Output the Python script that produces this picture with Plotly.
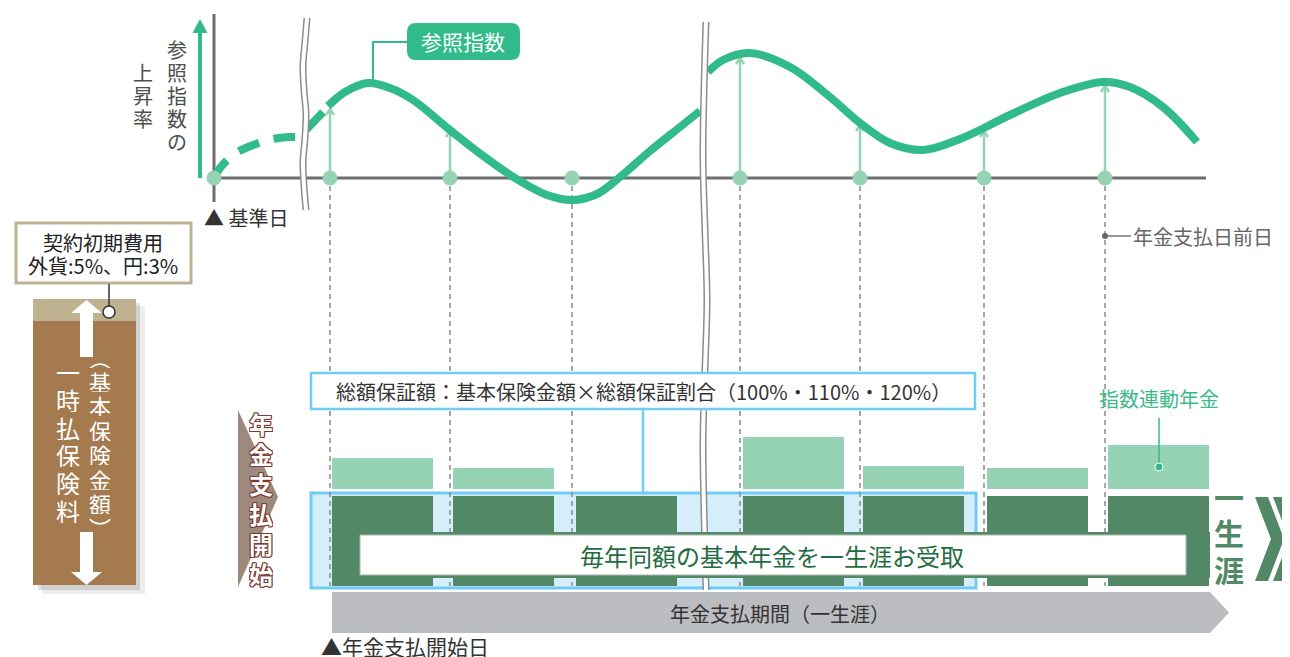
import plotly.graph_objects as go

FONT = "Noto Sans CJK JP"
GREEN = "#31bb8a"
LIGHT = "#96d3b5"
DARK = "#528866"
AXIS = "#6d6e71"
BLUE = "#6fcdf4"
BLUE_FILL = "#d6edfa"
TEXT = "#333333"

# canvas-space schematic: x = time line, y = level (smaller = higher)
AXIS_Y = 178
BASE_X = 214

# 参照指数 curve, in pieces (dashed start, skipped period, two solid stretches)
pre_x = [214, 220, 233, 248, 273, 292, 300]
pre_y = [178, 168, 155, 147, 139, 137, 137]
skip_x = [306, 314, 323]
skip_y = [130, 121, 112]
idx_a_x = [328, 345, 368, 390, 413, 450, 482, 515, 547, 572, 597, 620, 650, 680, 700]
idx_a_y = [106, 92, 83, 88, 100, 130, 155, 178, 195, 200, 194, 177, 151, 127, 111]
idx_b_x = [708, 723, 750, 790, 830, 860, 890, 923, 960, 1010, 1060, 1103, 1130, 1163, 1197]
idx_b_y = [72, 60, 53, 67, 97, 123, 143, 150, 139, 115, 93, 82, 87, 107, 142]

# 年金支払日前日 (observation dates) and where the rise arrow ends
obs_x = [330, 450, 572, 740, 860, 984, 1105]
obs_tip = [109, 131, None, 58, 125, 131, 86]

# yearly pension bars
bar_left = [332, 453, 576, 743, 863, 987, 1108]
BAR_W = 101
basic_pension = [90, 90, 90, 90, 90, 90, 90]      # 基本年金 (毎年同額)
index_pension = [31, 21, 0, 52, 23, 21, 44]       # 指数連動年金
BASIC_BASE = 586
INDEX_BASE = 489

# break marks (wavy double lines)
brk1_x = [307, 305, 303, 304, 306, 305, 303, 304, 306]
brk1_y = [18, 42, 66, 90, 114, 138, 162, 186, 210]
brk2_x = [706, 704, 703, 705, 707, 705, 703, 704, 706]
brk2_y = [22, 90, 160, 230, 300, 370, 440, 510, 590]

fig = go.Figure()

# dashed guide lines from each observation date down to the bars
gx, gy = [], []
for x in obs_x:
    gx += [x, x, None]
    gy += [AXIS_Y + 8, BASIC_BASE, None]
fig.add_trace(go.Scatter(x=gx, y=gy, mode="lines",
                         line=dict(color="#8a8a8a", width=1.5, dash="5px,4px")))

# bars
centers = [l + BAR_W / 2 for l in bar_left]
fig.add_trace(go.Bar(x=centers, y=[-v for v in basic_pension], base=BASIC_BASE,
                     width=BAR_W, marker=dict(color=DARK, line=dict(width=0))))
fig.add_trace(go.Bar(x=centers, y=[-v for v in index_pension], base=INDEX_BASE,
                     width=BAR_W, marker=dict(color=LIGHT, line=dict(width=0))))

# rise arrows (drawn under the curve)
ax_, ay_ = [], []
for x, t in zip(obs_x, obs_tip):
    if t is None:
        continue
    ax_ += [x, x, None, x - 4, x, x + 4, None]
    ay_ += [AXIS_Y, t, None, t + 6, t, t + 6, None]
fig.add_trace(go.Scatter(x=ax_, y=ay_, mode="lines", line=dict(color=LIGHT, width=2.5)))

# index curve
fig.add_trace(go.Scatter(x=pre_x, y=pre_y, mode="lines", line_shape="spline",
                         line=dict(color=GREEN, width=8, dash="22px,15px")))
fig.add_trace(go.Scatter(x=skip_x, y=skip_y, mode="lines", line=dict(color=GREEN, width=8)))
fig.add_trace(go.Scatter(x=idx_a_x, y=idx_a_y, mode="lines", line_shape="spline",
                         line=dict(color=GREEN, width=8)))
fig.add_trace(go.Scatter(x=idx_b_x, y=idx_b_y, mode="lines", line_shape="spline",
                         line=dict(color=GREEN, width=8)))

# break marks
for bx, by in [(brk1_x, brk1_y), (brk2_x, brk2_y)]:
    fig.add_trace(go.Scatter(x=bx, y=by, mode="lines", line_shape="spline",
                             line=dict(color="#8c8c8c", width=7)))
    fig.add_trace(go.Scatter(x=bx, y=by, mode="lines", line_shape="spline",
                             line=dict(color="white", width=4)))

# base date + observation points
fig.add_trace(go.Scatter(x=[BASE_X] + obs_x, y=[AXIS_Y] * (len(obs_x) + 1), mode="markers",
                         marker=dict(color=LIGHT, size=15, line=dict(width=0))))


def rrect(x0, y0, x1, y1, r):
    return (f"M{x0+r},{y0} L{x1-r},{y0} Q{x1},{y0} {x1},{y0+r} L{x1},{y1-r} "
            f"Q{x1},{y1} {x1-r},{y1} L{x0+r},{y1} Q{x0},{y1} {x0},{y1-r} "
            f"L{x0},{y0+r} Q{x0},{y0} {x0+r},{y0} Z")


below = "below"
above = "above"
shapes = [
    # left column: premium
    dict(type="rect", x0=42, y0=306, x1=145, y1=594, fillcolor="rgba(80,80,80,0.10)", line_width=0, layer=below),
    dict(type="rect", x0=38, y0=303, x1=140, y1=590, fillcolor="rgba(80,80,80,0.18)", line_width=0, layer=below),
    dict(type="rect", x0=33, y0=299, x1=136, y1=585, fillcolor="#a47a4e", line_width=0, layer=below),
    dict(type="rect", x0=33, y0=299, x1=136, y1=321, fillcolor="#beb290", line_width=0, layer=below),
    dict(type="path", path="M80,357 L80,313 L71,313 L86.5,300 L102,313 L93,313 L93,357 Z",
         fillcolor="white", line_width=0, layer=below),
    dict(type="path", path="M80,532 L80,572 L71,572 L86.5,585 L102,572 L93,572 L93,532 Z",
         fillcolor="white", line_width=0, layer=below),
    # 契約初期費用 box + pointer
    dict(type="rect", x0=16, y0=223, x1=191, y1=283, fillcolor="white",
         line=dict(color="#bdb392", width=3), layer=below),
    dict(type="line", x0=109, y0=284, x1=109, y1=306, line=dict(color="#333", width=1.5), layer=below),
    # 年金支払開始 marker
    dict(type="path", path="M238,410 L278,497 L238,587 Z", fillcolor="#9e8a7c", line_width=0, layer=below),
    # total guarantee box
    dict(type="rect", x0=311, y0=493, x1=976, y1=588, fillcolor=BLUE_FILL,
         line=dict(color=BLUE, width=3), layer=below),
    # payout period arrow
    dict(type="path", path="M332,592 L1210,592 L1229,612.5 L1210,633 L332,633 Z",
         fillcolor="#bcbdc0", line_width=0, layer=below),
    # axes
    dict(type="line", x0=BASE_X, y0=14, x1=BASE_X, y1=202, line=dict(color=AXIS, width=3), layer=below),
    dict(type="line", x0=BASE_X, y0=AXIS_Y, x1=1206, y1=AXIS_Y, line=dict(color=AXIS, width=3), layer=below),
    dict(type="line", x0=200, y0=178, x1=200, y1=30, line=dict(color=GREEN, width=4), layer=below),
    dict(type="path", path="M192.5,33 L200,19 L207.5,33 Z", fillcolor=GREEN, line_width=0, layer=below),
    # 参照指数 label
    dict(type="path", path="M373,82 L373,42 L407,42", line=dict(color=GREEN, width=2), layer=below),
    dict(type="path", path=rrect(407, 23, 520, 60, 9), fillcolor=GREEN, line_width=0, layer=below),
    # 年金支払日前日 pointer
    dict(type="line", x0=1105, y0=236, x1=1131, y1=236, line=dict(color="#777", width=1.5), layer=above),
    dict(type="circle", x0=1102, y0=233, x1=1108, y1=239, fillcolor="#666", line_width=0, layer=above),
    # lifelong basic pension band + text box
    dict(type="rect", x0=332, y0=532, x1=1210, y1=578, fillcolor=DARK, line_width=0, layer=above),
    dict(type="rect", x0=360, y0=535, x1=1186, y1=575, fillcolor="white",
         line=dict(color="#a8b8ad", width=1), layer=above),
    # 総額保証額 box
    dict(type="rect", x0=311, y0=373, x1=975, y1=409, fillcolor="white",
         line=dict(color=BLUE, width=2.5), layer=above),
    dict(type="line", x0=643, y0=410, x1=643, y1=493, line=dict(color=BLUE, width=2.5), layer=above),
    # 指数連動年金 pointer
    dict(type="line", x0=1159, y0=418, x1=1159, y1=466, line=dict(color=GREEN, width=1.5), layer=above),
    dict(type="circle", x0=1155, y0=463, x1=1163, y1=471, fillcolor=GREEN,
         line=dict(color="white", width=1), layer=above),
    # 一生涯 chevrons
    dict(type="path", path="M1255,497 L1268,497 L1284,539 L1268,581 L1255,581 L1271,539 Z",
         fillcolor=DARK, line_width=0, layer=above),
    dict(type="path", path="M1273,497 L1286,497 L1302,539 L1286,581 L1273,581 L1289,539 Z",
         fillcolor=DARK, line_width=0, layer=above),
]
# circle on the premium column
shapes.append(dict(type="circle", x0=103, y0=306, x1=115, y1=318, fillcolor="white",
                   line=dict(color="#333", width=1.5), layer=above))
for s in shapes:
    fig.add_shape(**s)


def label(x, y, text, size=20, color=TEXT, anchor="center", height=None, **font_kw):
    fig.add_annotation(x=x, y=y, text=text, showarrow=False, xanchor=anchor, yanchor="middle",
                       height=height, borderpad=0,
                       font=dict(family=FONT, size=size, color=color, **font_kw))


def vtext(chars, x, y0, step, size, color, **font_kw):
    # one glyph per annotation, box height kept to the glyph pitch
    for i, ch in enumerate(chars):
        label(x, y0 + i * step, ch, size=size, color=color, height=int(step) - 1, **font_kw)


vtext("参照指数の", 177, 49, 23, 20, "#4d4d4d")
vtext("上昇率", 143, 72, 23, 20, "#4d4d4d")
label(203, 217, "▲ 基準日", size=20, color="#333", anchor="left")
label(463, 41, "参照指数", size=21, color="white")
label(1132, 236, "年金支払日前日", size=20, color="#666", anchor="left")

label(103, 242, "契約初期費用", size=20, color="#222")
label(103, 265, "外貨:5%、円:3%", size=20, color="#222")
vtext("一時払保険料", 68, 371, 27.8, 24, "white")
vtext("︵基本保険金額︶", 100, 356, 24.4, 22, "white")

outline = ", ".join(f"{a}px {b}px 0 #7b3a33" for a, b in
                    [(1, 1), (-1, -1), (1, -1), (-1, 1), (1, 0), (-1, 0), (0, 1), (0, -1)])
vtext("年金支払開始", 261, 423, 30, 24, "white", weight="bold", shadow=outline)

label(643, 391, "総額保証額：基本保険金額×総額保証割合（100%・110%・120%）", size=20, color="#333")
label(1159, 398, "指数連動年金", size=20, color="#3cba8a")
label(772, 555, "毎年同額の基本年金を一生涯お受取", size=24, color="#236b40")
label(780, 613, "年金支払期間（一生涯）", size=20, color="#333")
label(320, 646, "▲年金支払開始日", size=21, color="#333", anchor="left")
vtext("一生涯", 1229, 495, 36.5, 30, DARK, weight="bold")

# the page body keeps an 8px margin, so the canvas starts at page pixel 8
fig.update_layout(
    width=1282, height=649,
    margin=dict(l=0, r=0, t=0, b=0),
    paper_bgcolor="white", plot_bgcolor="white",
    showlegend=False, barmode="overlay", hovermode=False,
    xaxis=dict(range=[8, 1290], visible=False, fixedrange=True),
    yaxis=dict(range=[657, 8], visible=False, fixedrange=True),
    font=dict(family=FONT),
)

fig.write_html("out.html")
